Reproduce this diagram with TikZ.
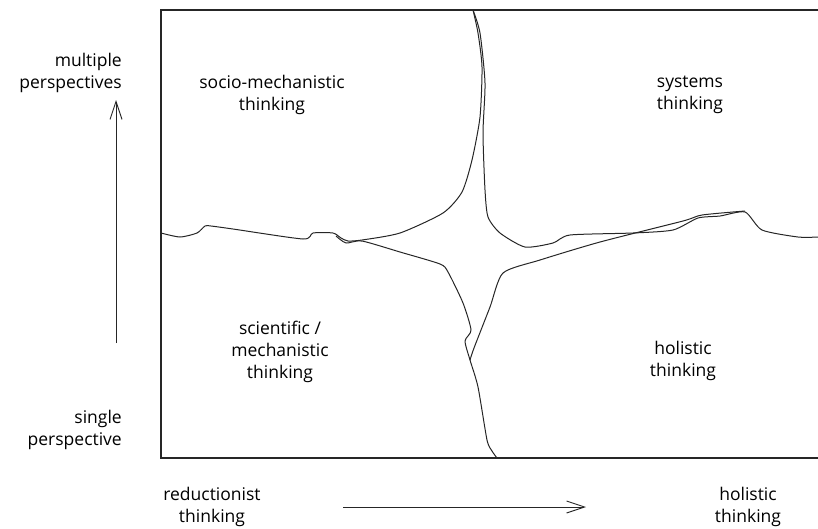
\documentclass[tikz,border=0pt]{standalone}
\usepackage{fontspec}
\setmainfont{Open Sans}
\usetikzlibrary{arrows.meta}
\tikzset{
  lab/.style={font=\fontsize{17.5}{22}\selectfont, align=center, inner sep=0pt},
  labr/.style={font=\fontsize{17.5}{22}\selectfont, align=right, inner sep=0pt, anchor=east},
  frame/.style={line width=1.1pt, black!85},
  crack/.style={line width=1pt, black!85, line join=round},
  axis/.style={line width=1pt, black!85, -{Straight Barb[length=18pt,width=12pt,line width=0.9pt]}}
}
\begin{document}
\begin{tikzpicture}[x=1pt,y=-1pt]
\useasboundingbox (0,0) rectangle (818,528);
% frame
\coordinate (tl) at (161,10);
\coordinate (tr) at (818,10);
\coordinate (bl) at (161,458);
\coordinate (br) at (818,458);
\draw[frame] (tr) -- (tl) -- (bl) -- (br);
% cracks
\draw[crack] plot[smooth, tension=0.4] coordinates {(161,233) (180,237) (197,233) (205,226) (211,226) (233,229) (303,239) (313,233) (333,233) (341,238) (348,241) (362,240) (400,233) (443,213) (462,192) (472,160) (480,117) (482,67) (478,33) (473,10)};
\draw[crack] plot[smooth, tension=0.4] coordinates {(473,10) (480,33) (485,83) (483,133) (485,190) (488,217) (500,233) (525,247) (553,243) (570,235) (633,233) (673,230) (698,218) (720,216) (745,212) (762,230) (798,237) (818,237)};
\draw[crack] plot[smooth, tension=0.4] coordinates {(336,236) (346,243) (362,241) (400,252) (440,264) (448,272) (463,303) (471,330) (465,341) (470,360) (478,387) (487,440) (492,451) (497,458)};
\draw[crack] plot[smooth, tension=0.4] coordinates {(470,360) (474,348) (490,307) (503,273) (540,260) (600,242) (683,221) (702,215) (745,211)};
% axes
\coordinate (ya) at (116,343);
\coordinate (yb) at (116,100);
\coordinate (xa) at (343,507);
\coordinate (xb) at (586,507);
\draw[axis] (ya) -- (yb);
\draw[axis] (xa) -- (xb);
% labels
\node[labr] (mp) at (122,73) {multiple\\perspectives};
\node[labr] (sp) at (122,430) {single\\perspective};
\node[lab] (sm) at (272,95) {socio-mechanistic\\thinking};
\node[lab] (st) at (690,95) {systems\\thinking};
\node[lab] (sc) at (280,352) {scientific /\\mechanistic\\thinking};
\node[lab] (ht) at (683,361) {holistic\\thinking};
\node[lab] (rt) at (212,507) {reductionist\\thinking};
\node[lab] (hx) at (748,507) {holistic\\thinking};
\end{tikzpicture}
\end{document}
